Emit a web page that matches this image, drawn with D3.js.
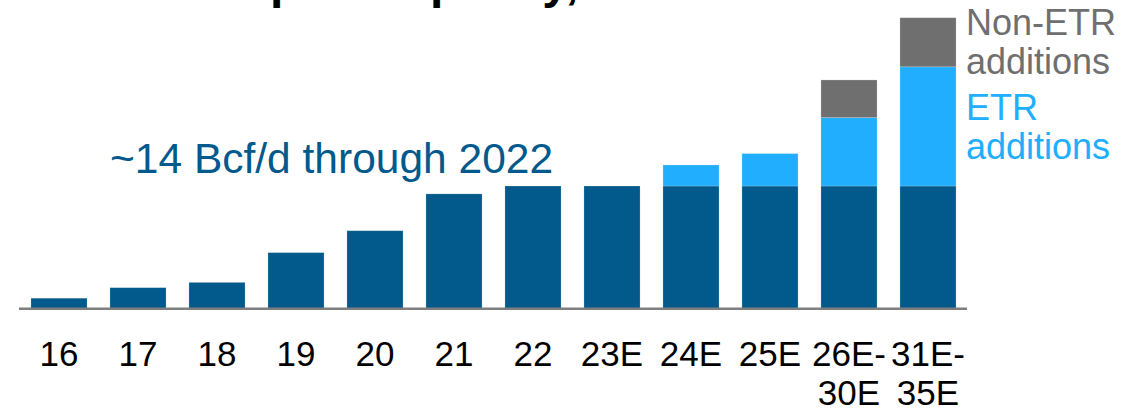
<!DOCTYPE html>
<html>
<head>
<meta charset="utf-8">
<script src="https://cdn.jsdelivr.net/npm/d3@7"></script>
<style>
  html, body { margin: 0; padding: 0; background: #ffffff; }
  svg { display: block; font-family: "Liberation Sans", Arial, sans-serif; }
</style>
</head>
<body>
<svg id="chart" width="1148" height="412"></svg>
<script>
// US LNG export capacity by year (Bcf/d)
const categories = ["16", "17", "18", "19", "20", "21", "22", "23E", "24E", "25E", "26E-30E", "31E-35E"];
const tickLabels = [["16"], ["17"], ["18"], ["19"], ["20"], ["21"], ["22"], ["23E"], ["24E"], ["25E"], ["26E-", "30E"], ["31E-", "35E"]];
const existing   = [1.2, 2.4, 3.0, 6.4, 8.9, 13.1, 14.0, 14.0, 14.0, 14.0, 14.0, 14.0];
const etrAdds    = [0, 0, 0, 0, 0, 0, 0, 0, 2.4, 3.7, 7.8, 13.6];
const nonEtrAdds = [0, 0, 0, 0, 0, 0, 0, 0, 0, 0, 4.3, 5.6];
const seriesKeys = ["existing", "etr", "nonEtr"];
const annotationText = "~14 Bcf/d through 2022";
const titleText = "US LNG export capacity, Bcf/d";

const colors = { existing: "#02598B", etr: "#21AEFF", nonEtr: "#6F6F6F" };

const svg = d3.select("#chart");

const rows = categories.map((c, i) => ({
  category: c, existing: existing[i], etr: etrAdds[i], nonEtr: nonEtrAdds[i]
}));

const x = d3.scaleBand()
  .domain(categories)
  .range([19.5, 967.5])
  .paddingInner(0.29)
  .paddingOuter(0.145);

const baseY = 308.7;
const y = d3.scaleLinear().domain([0, 14]).range([baseY, 186]);

const stacked = d3.stack().keys(seriesKeys)(rows);

// Title (runs off the top edge of the frame)
svg.append("text")
  .attr("x", 22)
  .attr("y", -2)
  .attr("font-size", 48)
  .attr("font-weight", "bold")
  .attr("fill", "#000000")
  .text(titleText);

// Stacked bars
svg.append("g")
  .selectAll("g")
  .data(stacked)
  .join("g")
  .attr("fill", d => colors[d.key])
  .selectAll("rect")
  .data(d => d.filter(s => s[1] - s[0] > 0))
  .join("rect")
  .attr("x", d => x(d.data.category))
  .attr("width", x.bandwidth())
  .attr("y", d => y(d[1]))
  .attr("height", d => y(d[0]) - y(d[1]))
  .attr("stroke", "#ffffff")
  .attr("stroke-opacity", 0.25)
  .attr("stroke-width", 0.8);

// Baseline
svg.append("line")
  .attr("x1", 19)
  .attr("x2", 967)
  .attr("y1", baseY)
  .attr("y2", baseY)
  .attr("stroke", "#7F7F7F")
  .attr("stroke-width", 2.5);

// Category labels
const axisG = svg.append("g").attr("transform", `translate(0,${baseY})`);
const axis = d3.axisBottom(x).tickSize(0).tickFormat("");
axisG.call(axis);
axisG.select(".domain").remove();
axisG.selectAll(".tick").each(function(d, i) {
  const t = d3.select(this).append("text")
    .attr("fill", "#000000")
    .attr("font-size", 35)
    .attr("text-anchor", "middle");
  tickLabels[i].forEach((line, j) => {
    t.append("tspan").attr("x", 0).attr("y", 57 + j * 39.3).text(line);
  });
});

// Annotation
svg.append("text")
  .attr("x", 110)
  .attr("y", 173)
  .attr("font-size", 42.5)
  .attr("fill", colors.existing)
  .text(annotationText);

// Series labels beside the last bar
const legend = [
  { lines: ["Non-ETR", "additions"], color: colors.nonEtr, y0: 35 },
  { lines: ["ETR", "additions"], color: colors.etr, y0: 120 }
];
legend.forEach(item => {
  const t = svg.append("text")
    .attr("font-size", 36)
    .attr("fill", item.color);
  item.lines.forEach((line, j) => {
    t.append("tspan").attr("x", 966).attr("y", item.y0 + j * 39).text(line);
  });
});
</script>
</body>
</html>
